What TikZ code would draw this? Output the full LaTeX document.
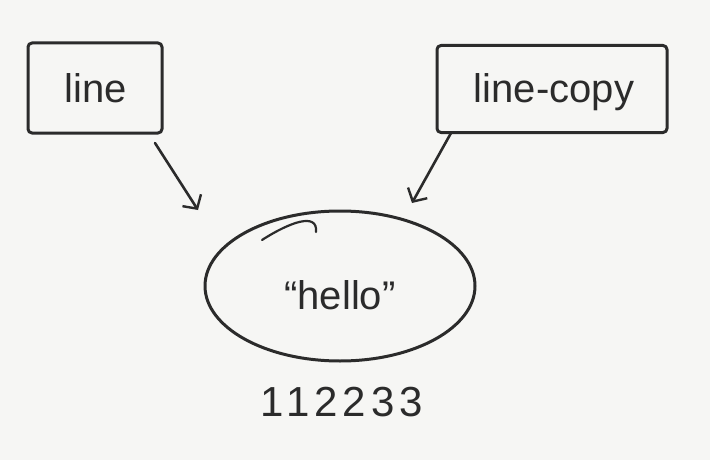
\documentclass[tikz,border=0pt]{standalone}
\usepackage{fontspec}
\setmainfont{Liberation Sans}
\usetikzlibrary{arrows.meta,shapes.geometric}
\definecolor{ink}{HTML}{2B2B2B}
\definecolor{paper}{HTML}{F6F6F4}
\begin{document}
\begin{tikzpicture}[x=1pt,y=-1pt,
  sketch/.style={draw=ink,line width=3pt,line cap=round,line join=round},
  boxnode/.style={sketch,rounded corners=4pt,inner sep=0pt,anchor=center},
  txt/.style={text=ink,font=\fontsize{40}{46}\selectfont},
  link/.style={sketch,line width=2.6pt,-{Straight Barb[length=10pt,width=22pt,line width=2.4pt]}}]
\fill[paper] (0,0) rectangle (710,460);
\useasboundingbox (0,0) rectangle (710,460);
\node[boxnode,minimum width=134pt,minimum height=90pt] (line) at (95,88) {};
\node[txt] (linetxt) at (96,88) {line};
\node[boxnode,minimum width=230pt,minimum height=87pt] (copy) at (552,89) {};
\node[txt] (copytxt) at (554,92) {line-copy};
\node[sketch,ellipse,minimum width=270pt,minimum height=150pt] (obj) at (340,286) {};
\node[txt] (hello) at (340,295) {“hello”};
\node[txt,font=\fontsize{42}{48}\selectfont\addfontfeature{LetterSpace=12}] (id) at (342,402) {112233};
\draw[sketch,line width=2.2pt] (262,240) .. controls (290,222) and (318,212) .. (316,232);
\coordinate (a1) at (155,143);
\coordinate (a2) at (198,210);
\coordinate (b1) at (451,133);
\coordinate (b2) at (412,203);
\draw[link] (a1) -- (a2);
\draw[link] (b1) -- (b2);
\end{tikzpicture}
\end{document}
